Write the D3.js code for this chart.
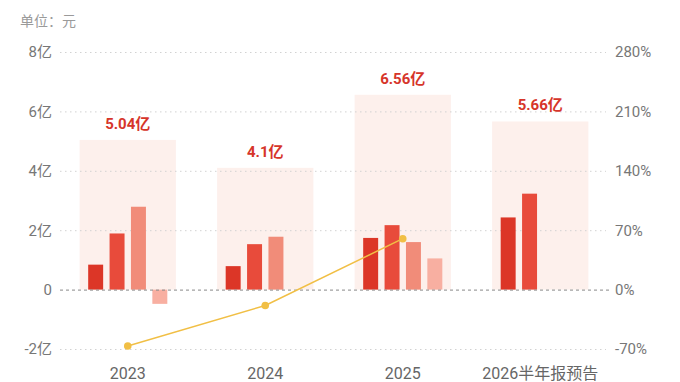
<!DOCTYPE html>
<html><head><meta charset="utf-8">
<script src="https://cdn.jsdelivr.net/npm/d3@7"></script>
<style>
html,body{margin:0;padding:0;background:#fff;}
svg{display:block;font-family:Roboto,"Noto Sans CJK SC",sans-serif;}
</style></head>
<body>
<svg id="chart" width="680" height="382"></svg>
<script>
const categories = ["2023", "2024", "2025", "2026半年报预告"];
const quarters = ["Q1", "Q2", "Q3", "Q4"];
const q1 = [0.84, 0.79, 1.74, 2.43];
const q2 = [1.89, 1.53, 2.17, 3.23];
const q3 = [2.79, 1.78, 1.60, null];
const q4 = [-0.48, null, 1.05, null];
const totals = [5.04, 4.1, 6.56, 5.66];
const totalLabels = ["5.04亿", "4.1亿", "6.56亿", "5.66亿"];
const growth = [-66.5, -18.65, 60.0, null];
const leftTicks = [-2, 0, 2, 4, 6, 8];
const leftTickLabels = ["-2亿", "0", "2亿", "4亿", "6亿", "8亿"];
const rightTicks = [-70, 0, 70, 140, 210, 280];
const rightTickLabels = ["-70%", "0%", "70%", "140%", "210%", "280%"];
const unitLabel = "单位：元";

const quarterSeries = [q1, q2, q3, q4];
const barColors = ["#dc3627", "#e84b3b", "#f18c79", "#f8afa1"];

const svg = d3.select("#chart");
const x = d3.scaleBand().domain(categories).range([59, 609]);
const y = d3.scaleLinear().domain([-2, 8]).range([349, 52]);
const y2 = d3.scaleLinear().domain([-70, 280]).range([349, 52]);
const bgW = x.bandwidth() * 0.7;
const xs = d3.scaleBand().domain(quarters).range([0, bgW]).paddingInner(0.3).paddingOuter(0.4);

// unit
svg.append("text").attr("x", 20).attr("y", 26).attr("font-size", 14).attr("fill", "#9a9a9a").text(unitLabel);

// backgrounds
svg.append("g").selectAll("rect").data(categories).join("rect")
  .attr("x", d => x(d) + (x.bandwidth() - bgW) / 2)
  .attr("width", bgW)
  .attr("y", (d, i) => y(totals[i]))
  .attr("height", (d, i) => y(0) - y(totals[i]))
  .attr("fill", "#fdf0ec");

// grid
const grid = svg.append("g");
leftTicks.forEach(t => {
  if (t === 0) return;
  grid.append("line").attr("x1", 60).attr("x2", 606).attr("y1", y(t) + 0.5).attr("y2", y(t) + 0.5)
    .attr("stroke", "#d2d2d2").attr("stroke-width", 1).attr("stroke-dasharray", "1.5,3.5");
});

// left axis
const yAxis = d3.axisLeft(y).tickValues(leftTicks).tickFormat((d, i) => leftTickLabels[i]).tickSize(0).tickPadding(0);
const gl = svg.append("g").attr("transform", "translate(52,0)").call(yAxis);
gl.select(".domain").remove();
gl.selectAll("text").attr("font-size", 15).attr("fill", "#777").attr("font-family", "Roboto,'Noto Sans CJK SC',sans-serif");

// right axis
const y2Axis = d3.axisRight(y2).tickValues(rightTicks).tickFormat((d, i) => rightTickLabels[i]).tickSize(0).tickPadding(0);
const gr = svg.append("g").attr("transform", "translate(615,0)").call(y2Axis);
gr.select(".domain").remove();
gr.selectAll("text").attr("font-size", 15).attr("fill", "#777").attr("font-family", "Roboto,'Noto Sans CJK SC',sans-serif");

// bars
const bars = svg.append("g");
quarterSeries.forEach((series, qi) => {
  bars.selectAll(null).data(categories.map((c, i) => ({c, v: series[i]})).filter(d => d.v != null))
    .join("rect")
    .attr("x", d => x(d.c) + (x.bandwidth() - bgW) / 2 + xs(quarters[qi]))
    .attr("width", xs.bandwidth())
    .attr("y", d => y(Math.max(0, d.v)))
    .attr("height", d => Math.abs(y(d.v) - y(0)))
    .attr("fill", barColors[qi]);
});

// zero line
svg.append("line").attr("x1", 60).attr("x2", 610).attr("y1", y(0) + 0.5).attr("y2", y(0) + 0.5)
  .attr("stroke", "#888").attr("stroke-width", 1).attr("stroke-dasharray", "3,3");

// total labels
svg.append("g").selectAll("text").data(categories).join("text")
  .attr("x", d => x(d) + x.bandwidth() / 2)
  .attr("y", (d, i) => y(totals[i]) - 11)
  .attr("text-anchor", "middle").attr("font-size", 15).attr("font-weight", "bold")
  .attr("fill", "#d6352a").text((d, i) => totalLabels[i]);

// growth line
const pts = categories.map((c, i) => ({c, v: growth[i]})).filter(d => d.v != null);
svg.append("path").datum(pts)
  .attr("d", d3.line().x(d => x(d.c) + x.bandwidth() / 2).y(d => y2(d.v)))
  .attr("fill", "none").attr("stroke", "#f1bf45").attr("stroke-width", 1.5);
svg.append("g").selectAll("circle").data(pts).join("circle")
  .attr("cx", d => x(d.c) + x.bandwidth() / 2).attr("cy", d => y2(d.v)).attr("r", 3.8)
  .attr("fill", "#f1bf45");

// x labels
const xAxis = d3.axisBottom(x).tickSize(0).tickPadding(0);
const gx = svg.append("g").attr("transform", "translate(0,379)").call(xAxis);
gx.select(".domain").remove();
gx.selectAll("text").attr("dy", 0).attr("font-size", 16).attr("fill", "#666")
  .attr("font-family", "Roboto,'Noto Sans CJK SC',sans-serif");
</script>
</body></html>
